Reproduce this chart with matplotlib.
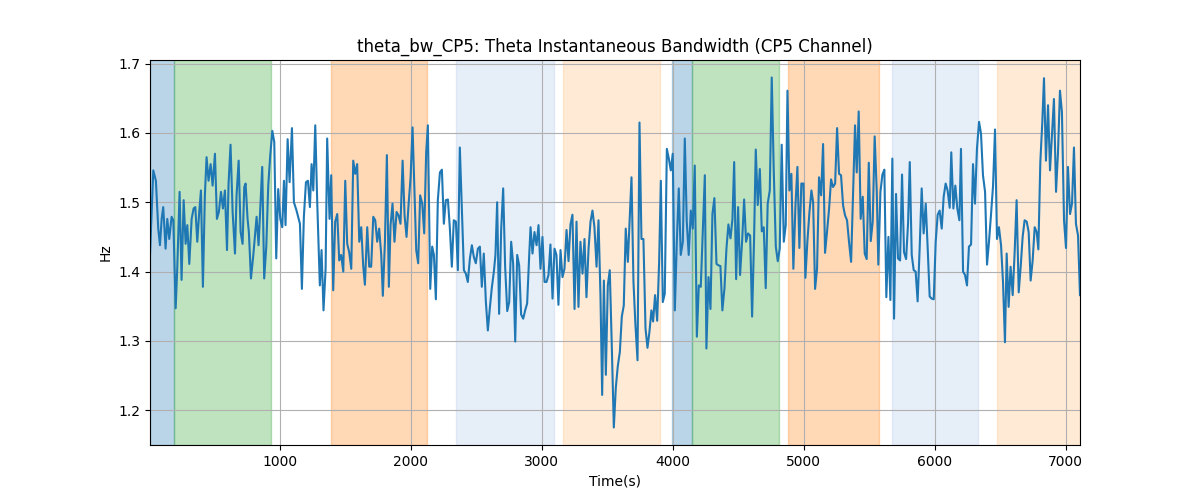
import numpy as np
import matplotlib.pyplot as plt

# time stamps (s) and bandwidth values (Hz)
time_s = [
    8, 33, 53, 71, 84, 97, 109, 127, 140, 155, 173, 186, 204, 216, 234, 249, 265, 280, 293, 308,
    326, 341, 354, 369, 384, 397, 412, 427, 440, 455, 471, 486, 504, 519, 534, 550, 565, 580, 596, 608,
    623, 639, 657, 669, 685, 700, 715, 728, 738, 753, 763, 779, 797, 822, 837, 865, 880, 896, 911, 926,
    942, 957, 972, 987, 1003, 1018, 1031, 1043, 1059, 1074, 1092, 1107, 1127, 1153, 1168, 1183, 1199, 1214,
    1229, 1242, 1255, 1270, 1285, 1305, 1318, 1333, 1349, 1361, 1379, 1392, 1407, 1422, 1438, 1453, 1468,
    1484, 1499, 1514, 1529, 1545, 1560, 1575, 1590, 1606, 1621, 1636, 1649, 1667, 1682, 1697, 1713, 1728,
    1743, 1758, 1774, 1786, 1802, 1817, 1832, 1845, 1860, 1875, 1891, 1906, 1921, 1937, 1952, 1967, 1982,
    1998, 2013, 2026, 2041, 2056, 2071, 2087, 2102, 2117, 2130, 2148, 2163, 2176, 2191, 2206, 2222, 2237,
    2252, 2267, 2283, 2298, 2313, 2328, 2344, 2359, 2374,
    2389, 2405, 2420, 2435, 2451, 2466, 2481, 2496, 2512, 2527, 2542, 2557, 2573, 2588, 2603, 2618, 2634,
    2646, 2659, 2674, 2690, 2705, 2720, 2736, 2751, 2766, 2781, 2797, 2812, 2827, 2842, 2858, 2873, 2888,
    2904, 2914, 2929, 2944, 2960, 2975, 2990, 3005, 3021, 3036, 3051, 3066, 3082, 3097, 3112, 3127, 3143,
    3158, 3173, 3189, 3204, 3219, 3234, 3250, 3265, 3280, 3295, 3311, 3326, 3341, 3357, 3372, 3387, 3402,
    3418, 3433, 3448, 3461, 3474, 3489, 3504, 3519,
    3535, 3550, 3565, 3580, 3596, 3611, 3626, 3641, 3657, 3672, 3685, 3700, 3715, 3731, 3746, 3761, 3776,
    3792, 3807, 3822, 3837, 3850, 3865, 3881, 3896, 3909, 3924, 3939, 3955, 3970, 3985, 4000, 4016, 4031,
    4046, 4061, 4077, 4092, 4107, 4122, 4138, 4153, 4168, 4184, 4199, 4214, 4229, 4245, 4257, 4273, 4288,
    4303, 4318, 4334, 4349, 4364, 4379, 4395, 4410, 4425, 4441, 4456, 4469, 4484, 4499, 4514, 4530, 4545,
    4560, 4575, 4591, 4606, 4621, 4634, 4649, 4665,
    4680, 4695, 4710, 4725, 4741, 4756, 4771, 4787, 4802, 4817, 4832, 4848, 4863, 4876, 4891, 4906, 4921,
    4937, 4952, 4967, 4982, 4998, 5013, 5028, 5044, 5059, 5072, 5087, 5102, 5117, 5133, 5148, 5163, 5178,
    5194, 5209, 5224, 5240, 5255, 5270, 5285, 5301, 5316, 5331, 5346, 5362, 5377, 5392, 5405, 5420, 5435,
    5451, 5466, 5481, 5497, 5512, 5527, 5542, 5558, 5570, 5586, 5601, 5616, 5631, 5647, 5662, 5677, 5690,
    5705, 5720, 5736, 5751, 5766, 5782, 5797, 5810,
    5825, 5840, 5855, 5870, 5886, 5901, 5916, 5932, 5947, 5962, 5977, 5993, 6008, 6023, 6038, 6054, 6069,
    6084, 6099, 6115, 6127, 6143, 6158, 6173, 6189, 6201, 6217, 6232, 6247, 6262, 6278, 6293, 6308, 6323,
    6339, 6354, 6369, 6385, 6400, 6415, 6430, 6446, 6461, 6476, 6491, 6507, 6522, 6537, 6550, 6565, 6580,
    6596, 6611, 6626, 6642, 6657, 6672, 6687, 6703, 6718, 6733, 6748, 6764, 6779, 6792, 6807, 6822, 6835,
    6850, 6866, 6881, 6896, 6911, 6927, 6942, 6957, 6972, 6988, 7003, 7018, 7034, 7049, 7064, 7079, 7095,
    7110,
]

theta_bw = [
    1.424, 1.546, 1.531, 1.462, 1.438, 1.476, 1.493, 1.433, 1.476, 1.447, 1.479, 1.474, 1.347, 1.404, 1.515,
    1.388, 1.503, 1.440, 1.467, 1.411, 1.476, 1.491, 1.493, 1.443, 1.486, 1.517, 1.378, 1.510, 1.565, 1.531,
    1.555, 1.524, 1.570, 1.476, 1.486, 1.515, 1.491, 1.517, 1.431, 1.527, 1.583, 1.486, 1.426, 1.510, 1.560,
    1.457, 1.440, 1.522, 1.527, 1.476, 1.457, 1.390, 1.424, 1.479, 1.438, 1.551, 1.390, 1.436, 1.524, 1.567,
    1.603, 1.587, 1.419, 1.519, 1.476, 1.464, 1.531, 1.467, 1.591, 1.529, 1.607, 1.500, 1.488, 1.469, 1.375,
    1.479, 1.529, 1.531,
    1.493, 1.555, 1.517, 1.611, 1.500, 1.380, 1.431, 1.344, 1.404, 1.592, 1.476, 1.539, 1.373, 1.472, 1.483,
    1.416, 1.424, 1.400, 1.531, 1.440, 1.428, 1.404, 1.560, 1.541, 1.555, 1.443, 1.464, 1.409, 1.381, 1.464,
    1.407, 1.407, 1.479, 1.474, 1.443, 1.462, 1.424, 1.365, 1.443, 1.568, 1.378, 1.467, 1.498, 1.443, 1.486,
    1.481, 1.469, 1.560, 1.481, 1.450, 1.495, 1.536, 1.608, 1.524, 1.431, 1.412, 1.510, 1.498, 1.455, 1.572,
    1.611, 1.375, 1.436, 1.424, 1.360, 1.503, 1.543, 1.547, 1.469, 1.503, 1.504, 1.462, 1.407, 1.474, 1.472,
    1.402, 1.579,
    1.495, 1.402, 1.397, 1.385, 1.419, 1.438, 1.421, 1.412, 1.433, 1.436, 1.378, 1.426, 1.356, 1.315, 1.347,
    1.376, 1.400, 1.424, 1.500, 1.339, 1.462, 1.520, 1.407, 1.343, 1.356, 1.443, 1.412, 1.299, 1.424, 1.409,
    1.338, 1.332, 1.344, 1.354, 1.424, 1.464, 1.426, 1.457, 1.438, 1.467, 1.404, 1.450, 1.385, 1.385, 1.395,
    1.439, 1.361, 1.433, 1.424, 1.352, 1.431, 1.392, 1.404, 1.460, 1.415, 1.468, 1.482, 1.346, 1.472, 1.349,
    1.443, 1.397, 1.447, 1.363, 1.433, 1.472, 1.488, 1.464, 1.407, 1.474, 1.366, 1.222, 1.387, 1.251, 1.380,
    1.402,
    1.289, 1.175, 1.232, 1.263, 1.284, 1.335, 1.351, 1.462, 1.414, 1.481, 1.536, 1.385, 1.323, 1.272, 1.615,
    1.447, 1.447, 1.318, 1.290, 1.313, 1.344, 1.328, 1.366, 1.329, 1.414, 1.531, 1.356, 1.368, 1.577, 1.563,
    1.546, 1.570, 1.344, 1.443, 1.520, 1.424, 1.443, 1.592, 1.472, 1.424, 1.488, 1.462, 1.553, 1.306, 1.380,
    1.378, 1.457, 1.539, 1.289, 1.392, 1.346, 1.483, 1.506, 1.411, 1.409, 1.408, 1.344, 1.376, 1.433, 1.468,
    1.448, 1.476, 1.558, 1.389, 1.493, 1.395, 1.445, 1.504, 1.443, 1.455, 1.452, 1.335, 1.447, 1.576, 1.496,
    1.548,
    1.458, 1.464, 1.376, 1.498, 1.517, 1.680, 1.548, 1.436, 1.415, 1.433, 1.583, 1.443, 1.467, 1.661, 1.517,
    1.541, 1.404, 1.495, 1.551, 1.434, 1.527, 1.527, 1.391, 1.443, 1.486, 1.517, 1.500, 1.375, 1.404, 1.536,
    1.510, 1.584, 1.427, 1.457, 1.491, 1.533, 1.522, 1.527, 1.607, 1.541, 1.539, 1.495, 1.481, 1.474, 1.443,
    1.414, 1.515, 1.611, 1.543, 1.631, 1.476, 1.508, 1.426, 1.418, 1.557, 1.444, 1.472, 1.595, 1.515, 1.410,
    1.515, 1.540, 1.547, 1.363, 1.450, 1.359, 1.563, 1.332, 1.512, 1.419, 1.416, 1.540, 1.428, 1.418, 1.470,
    1.558,
    1.424, 1.402, 1.400, 1.357, 1.436, 1.520, 1.455, 1.498, 1.433, 1.364, 1.361, 1.360, 1.443, 1.482, 1.488,
    1.462, 1.508, 1.527, 1.517, 1.492, 1.572, 1.491, 1.524, 1.491, 1.474, 1.577, 1.400, 1.395, 1.380, 1.436,
    1.439, 1.555, 1.498, 1.577, 1.616, 1.599, 1.539, 1.515, 1.410, 1.443, 1.481, 1.524, 1.605, 1.447, 1.464,
    1.438, 1.385, 1.298, 1.426, 1.349, 1.407, 1.366, 1.428, 1.503, 1.370, 1.407, 1.450, 1.474, 1.472, 1.457,
    1.387, 1.415, 1.464, 1.457, 1.432, 1.558, 1.615, 1.679, 1.560, 1.640, 1.546, 1.599, 1.649, 1.515, 1.572,
    1.661, 1.630, 1.474, 1.434, 1.551, 1.483, 1.498, 1.579, 1.469, 1.452, 1.366,
]

# shaded segments: (start, end, colour)
span_starts = [8, 193, 1389, 2344, 3163, 3993, 4148, 4880, 5675, 6474]
span_ends = [193, 929, 2127, 3092, 3901, 4148, 4809, 5573, 6329, 7110]
span_colors = ['#1f77b4', '#2ca02c', '#ff7f0e', '#aec7e8', '#ffbb78',
               '#1f77b4', '#2ca02c', '#ff7f0e', '#aec7e8', '#ffbb78']

fig, ax = plt.subplots(figsize=(12, 5))

for s, e, c in zip(span_starts, span_ends, span_colors):
    ax.axvspan(s, e, color=c, alpha=0.3)

ax.plot(time_s, theta_bw, color='C0', linewidth=1.5)

ax.set_xlim(time_s[0], time_s[-1])
ax.grid(True, color='#b0b0b0')
ax.set_title('theta_bw_CP5: Theta Instantaneous Bandwidth (CP5 Channel)')
ax.set_xlabel('Time(s)')
ax.set_ylabel('Hz')

plt.savefig('out.png', dpi=100)
